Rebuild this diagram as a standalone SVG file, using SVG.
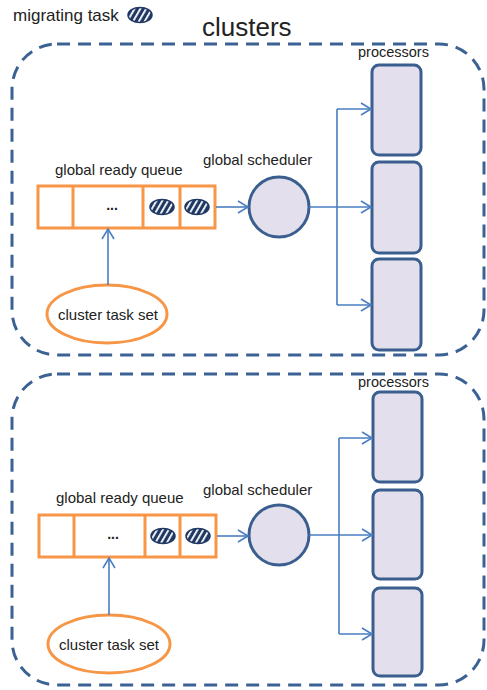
<svg xmlns="http://www.w3.org/2000/svg" width="487" height="690" viewBox="0 0 487 690">
<defs>
<style>
text{font-family:"Liberation Sans",Arial,sans-serif;fill:#222}
.lbl{font-size:15px}
.cl{fill:none;stroke:#3C6293;stroke-width:3;stroke-dasharray:13 8}
.q{fill:#fff;stroke:#F79646;stroke-width:3}
.proc{fill:#E4DFEC;stroke:#3A5F8F;stroke-width:3}
.con{fill:none;stroke:#4A7EC0;stroke-width:1.6}
.tok{fill:url(#stripes);stroke:#1F3864;stroke-width:1.5}
.dots{font-size:14px;font-weight:bold}
</style>
<pattern id="stripes" patternUnits="userSpaceOnUse" width="5" height="5" patternTransform="rotate(30)">
<rect width="5" height="5" fill="#1F3864"/>
<rect x="0" y="0" width="1.8" height="5" fill="#fff"/>
</pattern>
<marker id="arr" markerUnits="userSpaceOnUse" markerWidth="14" markerHeight="16" refX="11" refY="7" orient="auto" viewBox="0 0 14 16">
<path d="M1,1 L11,7 L1,13" fill="none" stroke="#4A7EC0" stroke-width="1.6"/>
</marker>
</defs>
<rect width="487" height="690" fill="#fff"/>

<g id="legend">
<text x="13" y="21" style="font-size:17px">migrating task</text>
<ellipse class="tok" cx="140" cy="15" rx="12" ry="7.5"/>
</g>
<text id="title" x="202" y="36" style="font-size:26px">clusters</text>

<g id="cluster1">
<rect class="cl" x="12" y="44" width="472" height="311" rx="45"/>
</g>
<g id="cluster2">
<rect class="cl" x="12" y="374" width="472" height="311" rx="45"/>
</g>

<g id="queue1">
<text class="lbl" x="55" y="175">global ready queue</text>
<rect class="q" x="38" y="186" width="177" height="42"/>
<line class="q" x1="73" y1="186" x2="73" y2="228"/>
<line class="q" x1="143" y1="186" x2="143" y2="228"/>
<line class="q" x1="180" y1="186" x2="180" y2="228"/>
<text class="dots" x="112" y="210" text-anchor="middle">...</text>
<ellipse class="tok" cx="162" cy="207" rx="12" ry="7.5"/>
<ellipse class="tok" cx="197" cy="207" rx="12" ry="7.5"/>
</g>
<g id="scheduler1">
<text class="lbl" x="203" y="165">global scheduler</text>
<circle class="proc" cx="279" cy="207" r="30"/>
</g>
<g id="processors1">
<text class="lbl" x="358" y="57" style="font-size:14.5px">processors</text>
<rect class="proc" x="372" y="65" width="49" height="90" rx="7"/>
<rect class="proc" x="372" y="162" width="49" height="91" rx="7"/>
<rect class="proc" x="372" y="259" width="49" height="91" rx="7"/>
</g>
<g id="taskset1">
<ellipse class="q" cx="107" cy="314" rx="60" ry="29"/>
<text class="lbl" x="108" y="320" text-anchor="middle">cluster task set</text>
</g>

<g id="queue2">
<text class="lbl" x="56" y="503">global ready queue</text>
<rect class="q" x="39" y="515" width="177" height="42"/>
<line class="q" x1="74" y1="515" x2="74" y2="557"/>
<line class="q" x1="145" y1="515" x2="145" y2="557"/>
<line class="q" x1="180" y1="515" x2="180" y2="557"/>
<text class="dots" x="113" y="539" text-anchor="middle">...</text>
<ellipse class="tok" cx="163" cy="536" rx="12" ry="7.5"/>
<ellipse class="tok" cx="198" cy="536" rx="12" ry="7.5"/>
</g>
<g id="scheduler2">
<text class="lbl" x="203" y="495">global scheduler</text>
<circle class="proc" cx="279" cy="535" r="30"/>
</g>
<g id="processors2">
<text class="lbl" x="358" y="387" style="font-size:14.5px">processors</text>
<rect class="proc" x="373" y="392" width="49" height="90" rx="7"/>
<rect class="proc" x="373" y="490" width="49" height="89" rx="7"/>
<rect class="proc" x="373" y="588" width="49" height="88" rx="7"/>
</g>
<g id="taskset2">
<ellipse class="q" cx="109" cy="644" rx="61" ry="29"/>
<text class="lbl" x="109" y="650" text-anchor="middle">cluster task set</text>
</g>

<g id="connectors">
<path class="con" d="M216,207 H248" marker-end="url(#arr)"/>
<path class="con" d="M108,285 V229" marker-end="url(#arr)"/>
<path class="con" d="M309,207 H337 M337,109 V305"/>
<path class="con" d="M337,109 H371" marker-end="url(#arr)"/>
<path class="con" d="M337,207 H371" marker-end="url(#arr)"/>
<path class="con" d="M337,305 H371" marker-end="url(#arr)"/>

<path class="con" d="M217,536 H248" marker-end="url(#arr)"/>
<path class="con" d="M109,615 V558" marker-end="url(#arr)"/>
<path class="con" d="M309,535 H339 M339,438 V634"/>
<path class="con" d="M339,438 H372" marker-end="url(#arr)"/>
<path class="con" d="M339,535 H372" marker-end="url(#arr)"/>
<path class="con" d="M339,634 H372" marker-end="url(#arr)"/>
</g>
</svg>
